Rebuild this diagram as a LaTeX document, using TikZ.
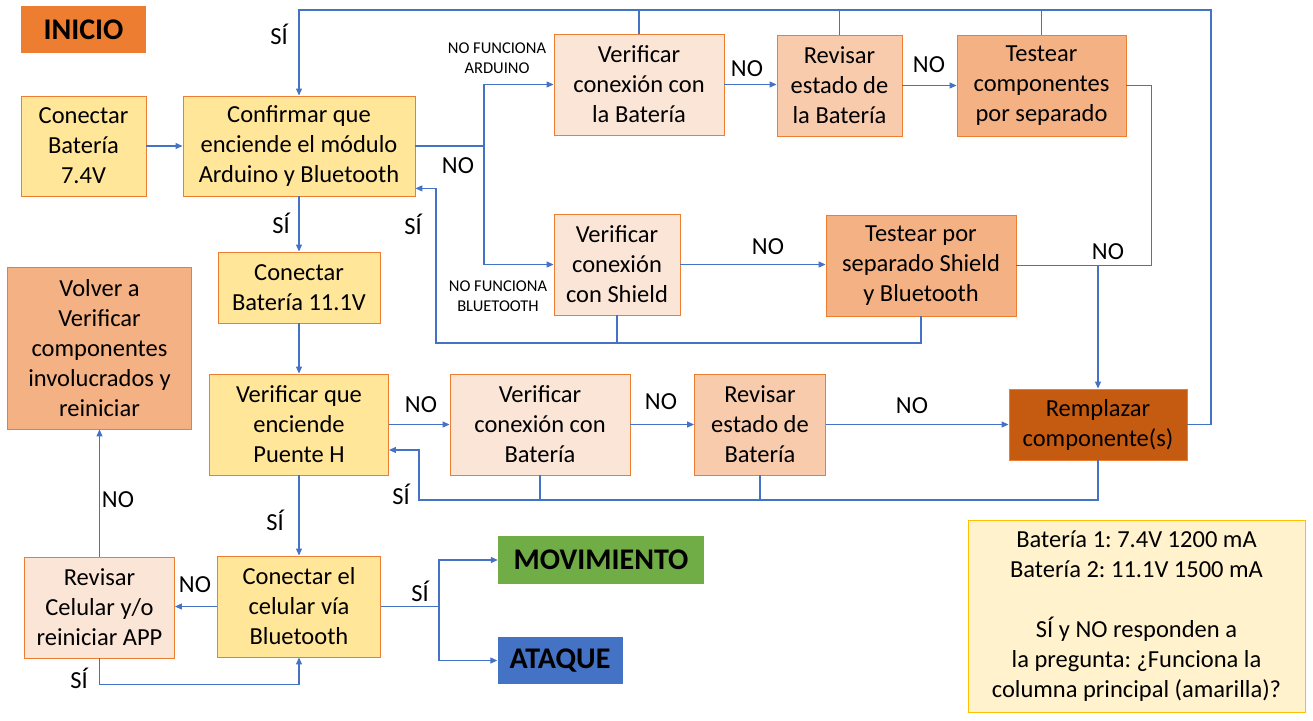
\documentclass[tikz,border=0pt]{standalone}
\usepackage{fontspec}
\setmainfont{Carlito}
\usetikzlibrary{arrows.meta,calc}
\definecolor{azul}{HTML}{4472C4}
\definecolor{borde}{HTML}{ED7D31}
\definecolor{amarilloc}{HTML}{FFE699}
\definecolor{durazno}{HTML}{FBE5D6}
\definecolor{salmon}{HTML}{F8CBAD}
\definecolor{naranjac}{HTML}{F4B183}
\definecolor{naranjao}{HTML}{C55A11}
\definecolor{verde}{HTML}{70AD47}
\definecolor{notaf}{HTML}{FFF2CC}
\definecolor{notab}{HTML}{FFC000}
\frenchspacing

\begin{document}
\begin{tikzpicture}[x=1bp,y=-1bp]
\tikzstyle{box}=[draw=borde,line width=0.9bp,align=center,inner sep=1bp,font=\fontsize{24.5bp}{30bp}\selectfont]
\tikzstyle{dim}=[minimum width=#1bp]
\tikzstyle{hgt}=[minimum height=#1bp]
\tikzstyle{titulo}=[inner sep=0pt,font=\bfseries\fontsize{30bp}{36bp}\selectfont]
\tikzstyle{con}=[draw=azul,line width=1.1bp]
\tikzstyle{arr}=[con,-{Triangle[length=7bp,width=6bp]}]
\tikzstyle{lab}=[draw=none,fill=none,inner sep=0pt,font=\fontsize{24.5bp}{30bp}\selectfont]
\tikzstyle{chico}=[draw=none,fill=none,inner sep=0pt,align=center,font=\fontsize{16.5bp}{20bp}\selectfont]
\useasboundingbox (0,0) rectangle (1313,720);
\fill[white] (0,0) rectangle (1313,720);
% cajas
\node[titulo,fill=borde,dim=125,hgt=47] (inicio) at (83.5,29.5) {INICIO};
\node[box,fill=amarilloc,dim=125,hgt=100] (bat1) at (83.5,146) {Conectar\\Batería\\7.4V};
\node[box,fill=amarilloc,dim=232,hgt=100] (conf) at (299,146) {Confirmar que\\enciende el módulo\\Arduino y Bluetooth};
\node[box,fill=amarilloc,dim=162,hgt=71] (bat2) at (299,287.5) {Conectar\\Batería 11.1V};
\node[box,fill=amarilloc,dim=179,hgt=101] (puente) at (299,424.5) {Verificar que\\enciende\\Puente H};
\node[box,fill=amarilloc,dim=163,hgt=101] (cel) at (299,606.5) {Conectar el\\celular vía\\Bluetooth};
\node[box,fill=naranjac,dim=184,hgt=162] (volver) at (99.5,348) {Volver a\\Verificar\\componentes\\involucrados y\\reiniciar};
\node[box,fill=durazno,dim=150,hgt=101] (rcel) at (99.5,607.5) {Revisar\\Celular y/o\\reiniciar APP};
\node[box,fill=durazno,dim=170,hgt=101] (vbat1) at (639,84.5) {Verificar\\conexión con\\la Batería};
\node[box,fill=salmon,dim=125,hgt=101] (rbat1) at (839.5,85.5) {Revisar\\estado de\\la Batería};
\node[box,fill=naranjac,dim=169,hgt=101] (test1) at (1041.5,85.5) {Testear\\componentes\\por separado};
\node[box,fill=durazno,dim=126,hgt=101] (vshield) at (617,264.5) {Verificar\\conexión\\con Shield};
\node[box,fill=naranjac,dim=190,hgt=101] (test2) at (921,265.5) {Testear por\\separado Shield\\y Bluetooth};
\node[box,fill=durazno,dim=180,hgt=101] (vbat2) at (540,424.5) {Verificar\\conexión con\\Batería};
\node[box,fill=salmon,dim=131,hgt=101] (rbat2) at (760,424.5) {Revisar\\estado de\\Batería};
\node[box,fill=naranjao,dim=178,hgt=71] (remp) at (1098,424.5) {Remplazar\\componente(s)};
\node[titulo,fill=verde,dim=206,hgt=48] (mov) at (601,560) {MOVIMIENTO};
\node[titulo,fill=azul,dim=125,hgt=47] (ataque) at (560,660.5) {ATAQUE};
\node[box,draw=notab,fill=notaf,dim=337,hgt=192] (nota) at (1136.5,616) {Batería 1: 7.4V 1200 mA\\Batería 2: 11.1V 1500 mA\\[30bp]SÍ y NO responden a\\la pregunta: ¿Funciona la\\columna principal (amarilla)?};
% puntos de paso
\coordinate (loopR) at (1211,10);
\coordinate (splitA) at (484,146);
\coordinate (joinB) at (1098,265.5);
\coordinate (retA) at (436,343);
\coordinate (retB) at (419,500);
\coordinate (splitC) at (439,606.5);
% columna principal
\draw[arr] (bat1) -- (conf);
\draw[arr] (conf) -- (bat2) node[lab] at (281,223) {SÍ};
\draw[arr] (bat2) -- (puente);
\draw[arr] (puente) -- (cel) node[lab] at (275,520) {SÍ};
\draw[arr] (remp.east) -| (loopR) -| (conf.north) node[lab] at (279,34) {SÍ};
\foreach \n in {vbat1,rbat1,test1}
	\draw[con] (\n.north) -- (\n.north |- loopR);
% rama arduino / bluetooth
\draw[con] (conf.east) -- (splitA) node[lab] at (458,166) {NO};
\draw[arr] (splitA) |- (vbat1.west) node[chico] at (497,58) {NO FUNCIONA\\ARDUINO};
\draw[arr] (splitA) |- (vshield.west) node[chico] at (498,296) {NO FUNCIONA\\BLUETOOTH};
\draw[arr] (vbat1.east) -- (vbat1.east -| rbat1.west) node[lab] at (747,69) {NO};
\draw[arr] (rbat1) -- (test1) node[lab] at (929,65) {NO};
\draw[arr] (vshield.east) -- (vshield.east -| test2.west) node[lab] at (768,247) {NO};
\draw[con] (test1.east) -- ++(25,0) |- (joinB);
\draw[con] (test2.east) -- (joinB) node[lab] at (1108,252) {NO};
\draw[arr] (joinB) -- (remp.north);
\draw[con] (test2.south) |- (retA);
\draw[arr] (vshield.south) |- (retA) |- ($(conf.east)!0.84!(conf.south east)$) node[lab] at (413,224) {SÍ};
% rama puente H
\draw[arr] (puente) -- (vbat2) node[lab] at (421,405) {NO};
\draw[arr] (vbat2) -- (rbat2) node[lab] at (661,402) {NO};
\draw[arr] (rbat2) -- (remp) node[lab] at (912,406) {NO};
\foreach \n in {vbat2,rbat2}
	\draw[con] (\n.south) -- (\n.south |- retB);
\draw[arr] (remp.south) |- (retB) |- ($(puente.east)!0.5!(puente.south east)$) node[lab] at (401,494) {SÍ};
% rama celular
\draw[arr] (cel.west) -- (cel.west -| rcel.east) node[lab] at (195,585) {NO};
\draw[arr] (rcel) -- (volver) node[lab] at (118,500) {NO};
\draw[arr] (rcel.south) -- ++(0,26) -| (cel.south) node[lab] at (79,678) {SÍ};
\draw[con] (cel.east) -- (splitC) node[lab] at (420,591) {SÍ};
\draw[arr] (splitC) |- (mov.west);
\draw[arr] (splitC) |- (ataque.west);
\end{tikzpicture}
\end{document}
